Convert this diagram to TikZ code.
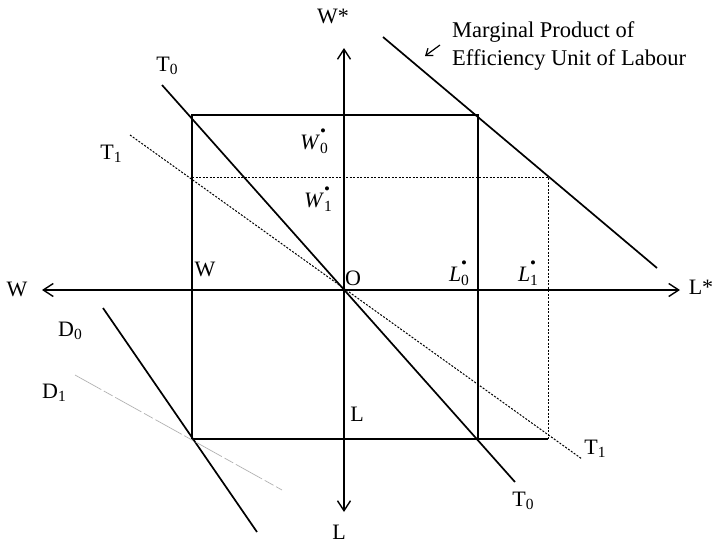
\documentclass[tikz,border=0pt]{standalone}
\usepackage{fontspec}
\setmainfont{Liberation Serif}
\usetikzlibrary{arrows.meta}
\newcommand{\subsz}{\fontsize{15.5}{15.5}\selectfont}
\newcommand{\Tsub}[2]{#1\raisebox{-0.3ex}{\subsz #2}}
\newcommand{\Wss}[2]{\textit{#1}\makebox[0pt][l]{\raisebox{1.25ex}{\fontsize{17}{17}\selectfont\textbullet}}\raisebox{-0.4ex}{\subsz #2}}
\begin{document}
\begin{tikzpicture}[x=1pt,y=-1pt,
  lbl/.style={font=\fontsize{22}{26}\selectfont, inner sep=0pt},
  note/.style={font=\fontsize{22.5}{28}\selectfont, inner sep=0pt, align=left, anchor=west},
  axisline/.style={line width=1.5pt, {Straight Barb[length=10pt,width=13pt,line width=1.4pt]}-{Straight Barb[length=10pt,width=13pt,line width=1.4pt]}},
  boxline/.style={line width=1.5pt},
  curve/.style={line width=1.7pt},
  dotline/.style={line width=1pt, dash pattern=on 2pt off 1.5pt},
  faint/.style={line width=0.7pt, gray!60, dash pattern=on 30pt off 3pt on 10pt off 3pt}]
\useasboundingbox (0,0) rectangle (713,544);
% coordinates
\coordinate (O) at (344,290);
\coordinate (Wend) at (42,290);
\coordinate (Lsend) at (680,290);
\coordinate (Wsend) at (344,48);
\coordinate (Lend) at (344,512);
\coordinate (A) at (192,115);
\coordinate (B) at (478,115);
\coordinate (C) at (478,439);
\coordinate (D) at (192,439);
\coordinate (E) at (548,439);
\coordinate (F) at (548,177);
\coordinate (G) at (192,177);
\coordinate (T0a) at (162,85);
\coordinate (T0b) at (515,482);
\coordinate (T1a) at (130,135);
\coordinate (T1b) at (582,459);
\coordinate (MPa) at (383,37);
\coordinate (MPb) at (657,268);
\coordinate (D0a) at (103,308);
\coordinate (D0b) at (257,532);
\coordinate (D1a) at (75,375);
\coordinate (D1b) at (282,490);
\coordinate (arrT) at (440,45);
\coordinate (arrH) at (425,56);
% axes
\draw[axisline] (Wend) -- (Lsend);
\draw[axisline] (Wsend) -- (Lend);
% box
\draw[boxline] (D) -- (A) -- (B) -- (C);
\draw[boxline] (D) -- (E);
% dotted projections
\draw[dotline] (G) -- (F) -- (E);
% lines
\draw[curve] (T0a) -- (T0b);
\draw[dotline] (T1a) -- (T1b);
\draw[curve] (MPa) -- (MPb);
\draw[curve] (D0a) -- (D0b);
\draw[faint] (D1a) -- (D1b);
\draw[line width=1.2pt, -{Straight Barb[length=6pt,width=9pt,line width=1.2pt]}] (arrT) -- (arrH);
% labels
\node[lbl] (lWs) at (333,16) {W*};
\node[lbl] (lLs) at (701,287) {L*};
\node[lbl] (lW) at (17,289) {W};
\node[lbl] (lWin) at (205,269) {W};
\node[lbl] (lO) at (353,278) {O};
\node[lbl] (lLin) at (357,414) {L};
\node[lbl] (lL) at (339,532) {L};
\node[lbl] (lT0a) at (167,66) {\Tsub{T}{0}};
\node[lbl] (lT1a) at (111,154) {\Tsub{T}{1}};
\node[lbl] (lT0b) at (523,501) {\Tsub{T}{0}};
\node[lbl] (lT1b) at (595,449) {\Tsub{T}{1}};
\node[lbl] (lD0) at (70,331) {\Tsub{D}{0}};
\node[lbl] (lD1) at (54,393) {\Tsub{D}{1}};
\node[lbl] (lW0) at (314,141) {\Wss{W}{0}};
\node[lbl] (lW1) at (318,199) {\Wss{W}{1}};
\node[lbl] (lL0) at (459,273) {\Wss{L}{0}};
\node[lbl] (lL1) at (528,273) {\Wss{L}{1}};
\node[note] (mp) at (452,46) {Marginal Product of\\Efficiency Unit of Labour};
\end{tikzpicture}
\end{document}
